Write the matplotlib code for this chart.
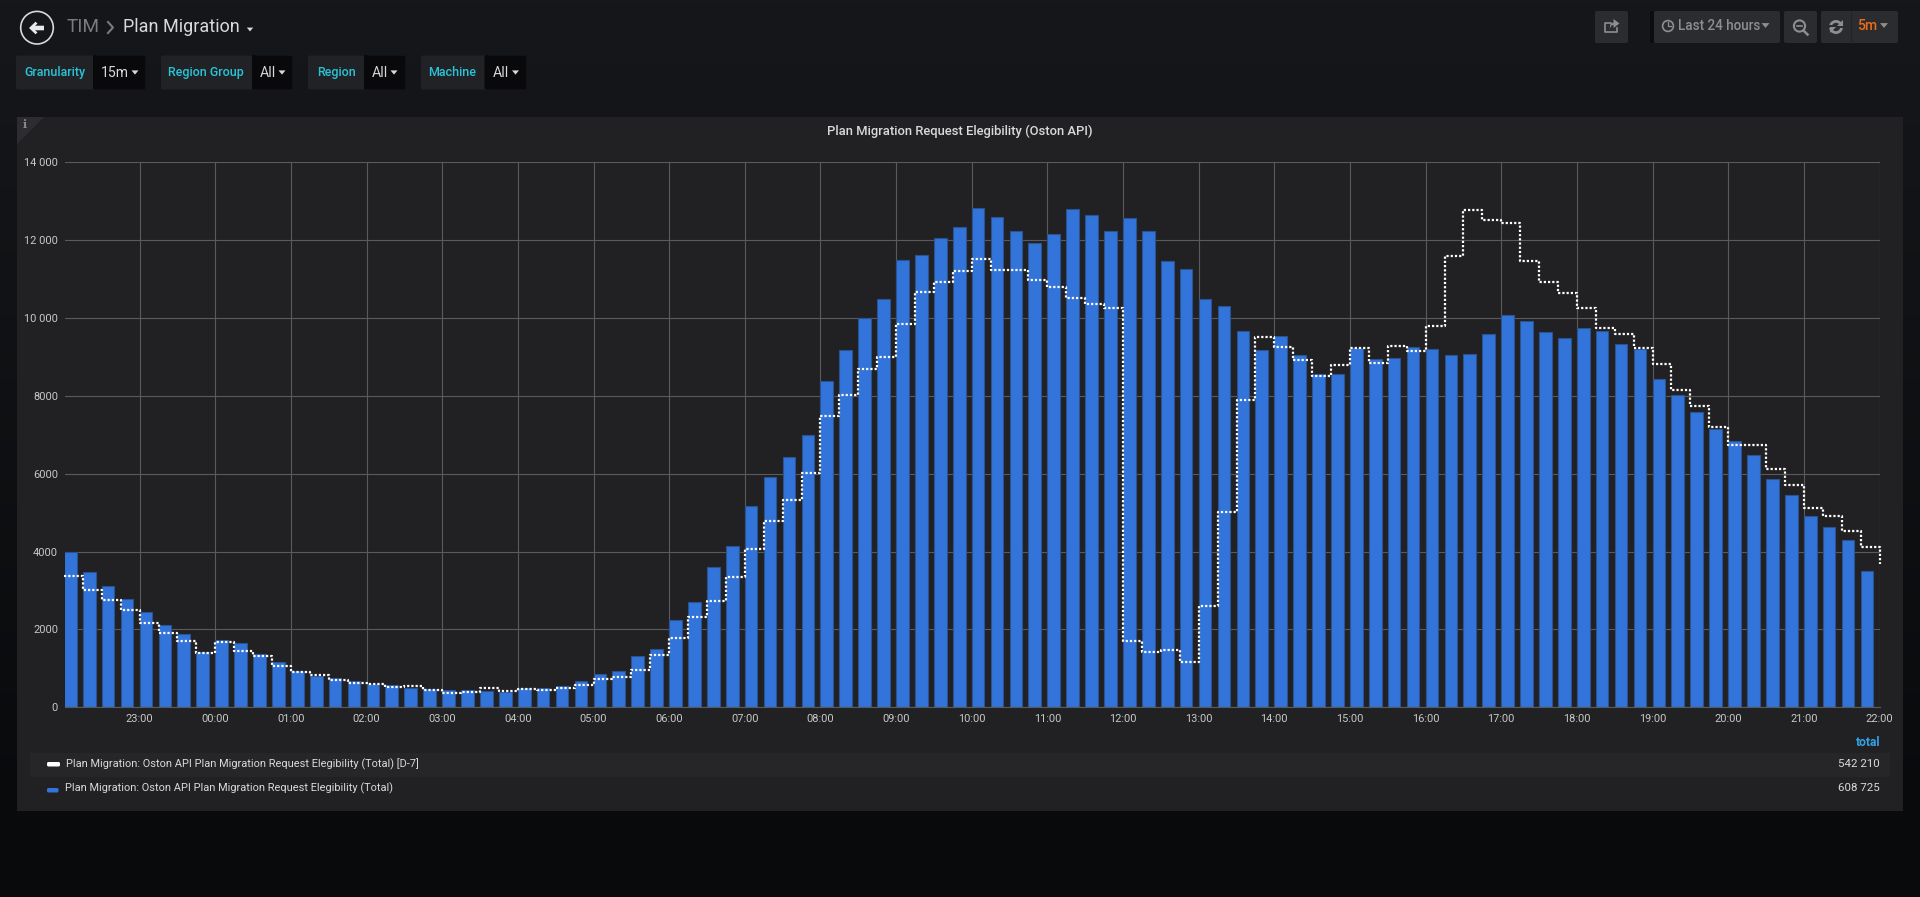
#!/usr/bin/env python

import matplotlib
matplotlib.use("Agg")
import matplotlib.pyplot as plt
from matplotlib.patches import Circle, FancyBboxPatch, Polygon, Rectangle

import numpy as np

# One bar per 15 minutes starting at 22:00 the day before
TOTAL_VALUES = [
  4000, 3486, 3126, 2775, 2441, 2107, 1876, 1430, 1739, 1644, 1362, 1156,
  942, 814, 745, 668, 608, 565, 505, 471, 454, 437, 411, 403,
  488, 488, 540, 668, 856, 933, 1319, 1499, 2234, 2707, 3607, 4138,
  5163, 5908, 6420, 6991, 8373, 9166, 9988, 10481, 11477, 11603, 12057, 12328,
  12811, 12579, 12231, 11932, 12163, 12802, 12628, 12231, 12550, 12241, 11467, 11255,
  10491, 10297, 9659, 9166, 9534, 9050, 8567, 8557, 9224, 8954, 8973, 9253,
  9195, 9040, 9070, 9572, 10065, 9911, 9640, 9476, 9737, 9669, 9321, 9205,
  8431, 8006, 7571, 7145, 6836, 6488, 5860, 5444, 4921, 4641, 4303, 3491,
]

# Same thing 7 days earlier, it has one more point that closes the line at 22:00
D7_VALUES = [
  3366, 3015, 2749, 2501, 2175, 1910, 1696, 1405, 1687, 1456, 1327, 1062,
  908, 831, 694, 634, 608, 522, 548, 437, 368, 385, 505, 420,
  471, 437, 505, 582, 728, 771, 945, 1334, 1789, 2321, 2727, 3345,
  4071, 4776, 5318, 6014, 7474, 8016, 8673, 8982, 9853, 10675, 10916, 11197,
  11516, 11216, 11216, 10965, 10800, 10520, 10346, 10249, 1711, 1431, 1460, 1170,
  2591, 5009, 7880, 9505, 9263, 8905, 8518, 8799, 9215, 8838, 9273, 9147,
  9795, 11574, 12763, 12521, 12444, 11458, 10916, 10636, 10259, 9737, 9592, 9234,
  8809, 8151, 7745, 7184, 6739, 6730, 6130, 5705, 5125, 4921, 4525, 4119, 3684,
]

HOUR_LABELS = [
  "23:00", "00:00", "01:00", "02:00", "03:00", "04:00", "05:00", "06:00",
  "07:00", "08:00", "09:00", "10:00", "11:00", "12:00", "13:00", "14:00",
  "15:00", "16:00", "17:00", "18:00", "19:00", "20:00", "21:00", "22:00",
]
Y_TICKS = [0, 2000, 4000, 6000, 8000, 10000, 12000, 14000]
Y_LABELS = ["0", "2000", "4000", "6000", "8000", "10 000", "12 000", "14 000"]

LEGEND_NAMES = [
  "Plan Migration: Oston API Plan Migration Request Elegibility (Total) [D-7]",
  "Plan Migration: Oston API Plan Migration Request Elegibility (Total)",
]
LEGEND_TOTALS = ["542 210", "608 725"]

# label, value, label box left, split, right, label centre, value x, caret x
VARIABLES = [
  ("Granularity", "15m", 16, 93, 145.5, 54.5, 101, 135),
  ("Region Group", "All", 161, 252, 292.5, 206, 260, 282),
  ("Region", "All", 308, 364, 405.5, 336, 372, 394),
  ("Machine", "All", 421, 484.5, 526.5, 452.5, 493, 515.5),
]

WIDTH, HEIGHT = 1920, 897
BLUE = "#3274d9"
TEXT = "#d8d9da"
GREY = "#8e8e8e"
CYAN = "#2ac4d8"
BUTTON = "#2b2c2f"

plt.rcParams["font.family"] = ["Roboto", "DejaVu Sans"]

# Font size in points from a size in pixels
def fs(px):
  return px * 0.72

def box(ax, x0, y0, x1, y1, color, radius=2, zorder=2):
  ax.add_patch(FancyBboxPatch((x0 + radius, y0 + radius), x1 - x0 - 2 * radius, y1 - y0 - 2 * radius,
                              boxstyle="round,pad=%f,rounding_size=%f" % (radius, radius),
                              facecolor=color, edgecolor="none", zorder=zorder))

def caret(ax, x, y, half, color):
  ax.add_patch(Polygon([(x - half, y - half * 0.6), (x + half, y - half * 0.6), (x, y + half * 0.6)],
                       closed=True, facecolor=color, edgecolor="none", zorder=5))

# Background, panel, header buttons. This axes works in image pixels.
def draw_chrome(ax):
  ax.set_xlim(0, WIDTH)
  ax.set_ylim(HEIGHT, 0)
  ax.axis("off")

  top = np.array([0x16, 0x17, 0x1a]) / 255.0
  bottom = np.array([0x09, 0x0a, 0x0c]) / 255.0
  t = np.clip(np.linspace(0, 1.09, 256), 0, 1)[:, None, None]
  ax.imshow(top * (1 - t) + bottom * t, extent=(0, WIDTH, HEIGHT, 0), aspect="auto", zorder=0)

  # back button
  ax.add_patch(Circle((37, 27.7), 16.3, facecolor="none", edgecolor=TEXT, linewidth=1.2, zorder=3))
  ax.add_patch(Polygon([(29, 28), (35.5, 21.7), (37.5, 23.7), (35, 25.7), (44, 25.7), (44, 30.3),
                        (35, 30.3), (37.5, 32.3), (35.5, 34.3)],
                       closed=True, facecolor="#e8e9ea", edgecolor="none", zorder=4))

  # breadcrumb
  ax.text(67, 27, "TIM", color="#7b7b7b", fontsize=fs(19), va="center", ha="left", zorder=5)
  ax.plot([108, 113, 108], [22, 27.5, 33], color="#7b7b7b", linewidth=1.5, zorder=5)
  ax.text(123, 27, "Plan Migration", color=TEXT, fontsize=fs(18), va="center", ha="left", zorder=5)
  caret(ax, 250, 29.5, 3.2, TEXT)

  # template variables
  for name, value, x0, split, x1, name_x, value_x, caret_x in VARIABLES:
    box(ax, x0, 55.5, x1, 89.5, "#212226")
    box(ax, split, 55.5, x1, 89.5, "#09090b")
    ax.add_patch(Rectangle((split, 55.5), 4, 34, facecolor="#09090b", edgecolor="none", zorder=2))
    ax.text(name_x, 72.5, name, color=CYAN, fontsize=fs(12.5), fontweight="medium", va="center", ha="center", zorder=5)
    ax.text(value_x, 73, value, color=TEXT, fontsize=fs(14), va="center", ha="left", zorder=5)
    caret(ax, caret_x, 72.5, 3.5, TEXT)

  # header buttons
  box(ax, 1595, 11, 1628, 43, BUTTON)
  ax.add_patch(Rectangle((1650, 11), 4, 32, facecolor="#0c0d0f", edgecolor="none", zorder=2))
  box(ax, 1654, 11, 1780, 43, BUTTON)
  box(ax, 1784, 11, 1817, 43, BUTTON)
  box(ax, 1821, 11, 1898, 43, BUTTON)
  ax.plot([1851, 1851], [11, 43], color="#232427", linewidth=0.8, zorder=3)

  # share icon
  ax.plot([1611, 1605, 1605, 1617, 1617], [23, 23, 32.5, 32.5, 28.5], color=GREY, linewidth=1.2, zorder=4)
  ax.add_patch(Polygon([(1609.5, 29), (1610.5, 24), (1613.5, 22.5), (1613.5, 19), (1619.5, 23.5), (1613.5, 28), (1613.5, 25),
                        (1611.5, 25.5)],
                       closed=True, facecolor=GREY, edgecolor="none", zorder=5))

  # clock icon and time range
  ax.add_patch(Circle((1668, 26), 5.4, facecolor="none", edgecolor=GREY, linewidth=1.2, zorder=4))
  ax.plot([1668, 1668, 1671], [22.5, 26.5, 26.5], color=GREY, linewidth=0.9, zorder=4)
  ax.text(1677.5, 26.5, "Last 24 hours", color=GREY, fontsize=fs(13.5), fontweight="medium", va="center", ha="left", zorder=5)
  caret(ax, 1765.5, 25.5, 4, GREY)

  # zoom out icon
  ax.add_patch(Circle((1799.5, 26), 5.6, facecolor="none", edgecolor=GREY, linewidth=1.5, zorder=4))
  ax.plot([1797, 1802], [26, 26], color=GREY, linewidth=1.2, zorder=4)
  ax.plot([1803.5, 1807.5], [30.5, 34.5], color=GREY, linewidth=1.8, zorder=4)

  # refresh icon and interval
  ax.add_patch(Circle((1836, 27), 5.6, facecolor="none", edgecolor=GREY, linewidth=2.0, zorder=4))
  ax.add_patch(Rectangle((1829, 25.5), 14, 3, facecolor=BUTTON, edgecolor="none", zorder=4))
  ax.add_patch(Polygon([(1842.5, 20.5), (1842.5, 26.5), (1836.5, 26.5)], closed=True, facecolor=GREY, edgecolor="none", zorder=5))
  ax.add_patch(Polygon([(1829.5, 33.5), (1829.5, 27.5), (1835.5, 27.5)], closed=True, facecolor=GREY, edgecolor="none", zorder=5))
  ax.text(1857, 26.5, "5m", color="#ed6b15", fontsize=fs(14), fontweight="medium", va="center", ha="left", zorder=5)
  caret(ax, 1884, 25.5, 4, GREY)

  # panel with the info corner
  ax.add_patch(Rectangle((17, 117), 1886, 694, facecolor="#212124", edgecolor="none", zorder=1))
  ax.add_patch(Polygon([(17, 117), (44, 117), (17, 144)], closed=True, facecolor="#2d2d31", edgecolor="none", zorder=2))
  ax.text(24.5, 125, "i", color="#8e8e8e", fontsize=fs(11), fontweight="bold", family="DejaVu Serif", va="center", ha="center", zorder=5)
  ax.text(959.5, 131, "Plan Migration Request Elegibility (Oston API)", color=TEXT, fontsize=fs(13),
          fontweight="medium", va="center", ha="center", zorder=5)

# Table legend under the graph
def draw_legend(ax):
  ax.text(1880, 742, "total", color="#33a2e5", fontsize=fs(12), fontweight="bold", va="center", ha="right", zorder=5)
  ax.add_patch(Rectangle((29.5, 753), 1860.5, 24, facecolor="#262628", edgecolor="none", zorder=2))
  box(ax, 47, 762, 60, 766.5, "#ffffff", radius=1.5, zorder=4)
  box(ax, 47, 788, 58.5, 792.5, BLUE, radius=1.5, zorder=4)
  ax.text(66.5, 764, LEGEND_NAMES[0], color=TEXT, fontsize=fs(11), va="center", ha="left", zorder=5)
  ax.text(65, 788.5, LEGEND_NAMES[1], color=TEXT, fontsize=fs(11), va="center", ha="left", zorder=5)
  ax.text(1880, 764, LEGEND_TOTALS[0], color=TEXT, fontsize=fs(11.5), va="center", ha="right", zorder=5)
  ax.text(1880, 788, LEGEND_TOTALS[1], color=TEXT, fontsize=fs(11.5), va="center", ha="right", zorder=5)

def draw_graph(ax):
  slots = np.arange(len(TOTAL_VALUES))
  ax.bar(slots, TOTAL_VALUES, width=0.67, align="edge", color=BLUE, edgecolor="#2a5392", linewidth=0.8, zorder=2)
  ax.plot(np.arange(len(D7_VALUES)), D7_VALUES, drawstyle="steps-post", color="#ffffff", linewidth=1.6,
          linestyle=(0, (1, 0.9)), dash_capstyle="butt", clip_on=False, zorder=3)

  # the time axis starts at 22:00 just left of the drawn area
  ax.set_xlim(0.053, 96)
  ax.set_ylim(0, 14000)
  ax.set_xticks(np.arange(4, 97, 4))
  ax.set_xticklabels(HOUR_LABELS)
  ax.set_yticks(Y_TICKS)
  ax.set_yticklabels(Y_LABELS)
  ax.tick_params(axis="both", length=0, labelsize=fs(11), labelcolor="#c8c8c8")
  ax.tick_params(axis="x", pad=5)
  ax.tick_params(axis="y", pad=5)
  ax.grid(True, color="#5a5a5c", linewidth=0.8, zorder=1)
  ax.set_axisbelow(True)
  ax.patch.set_alpha(0)
  for side in ["top", "left", "right"]:
    ax.spines[side].set_visible(False)
  ax.spines["bottom"].set_color("#5a5a5c")
  ax.spines["bottom"].set_linewidth(0.8)

def main():
  fig = plt.figure(figsize=(WIDTH / 100.0, HEIGHT / 100.0), dpi=100)
  chrome = fig.add_axes([0, 0, 1, 1], zorder=0)
  draw_chrome(chrome)
  draw_legend(chrome)
  left, right, top, bottom = 65.0, 1879.5, 162.0, 707.3
  ax = fig.add_axes([left / WIDTH, 1 - bottom / HEIGHT, (right - left) / WIDTH, (bottom - top) / HEIGHT], zorder=2)
  draw_graph(ax)
  fig.savefig("out.png", dpi=100, facecolor="#16171a")

if __name__ == "__main__":
  main()
